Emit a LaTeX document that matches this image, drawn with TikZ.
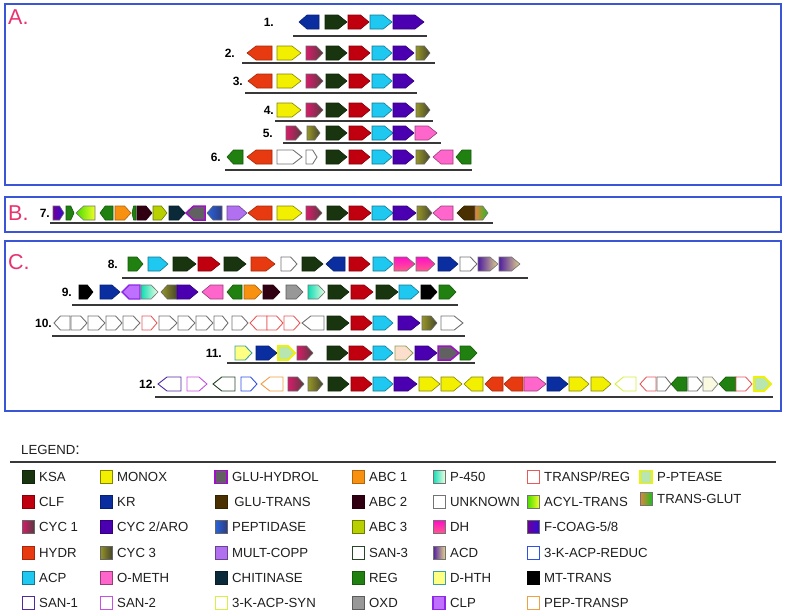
\documentclass[tikz,border=0pt]{standalone}
\usepackage{fontspec}
\setmainfont{Liberation Sans}
\definecolor{boxblue}{HTML}{3A55D6}
\definecolor{lblpink}{HTML}{E8336F}
\definecolor{cKSA}{HTML}{18350F}
\definecolor{cCLF}{HTML}{C0000F}
\definecolor{cHYDR}{HTML}{E83A10}
\definecolor{cACP}{HTML}{1EC8F0}
\definecolor{cMONOX}{HTML}{F2F000}
\definecolor{cKR}{HTML}{0A2EA0}
\definecolor{cCYC}{HTML}{4A00B0}
\definecolor{cOMETH}{HTML}{FF66CC}
\definecolor{cGLUT}{HTML}{4A3000}
\definecolor{cMULT}{HTML}{B070F0}
\definecolor{cCHIT}{HTML}{0A2A3A}
\definecolor{cABCa}{HTML}{F89010}
\definecolor{cABCb}{HTML}{300012}
\definecolor{cABCc}{HTML}{B8D000}
\definecolor{cREG}{HTML}{208010}
\definecolor{cOXD}{HTML}{989898}
\definecolor{gCYCa}{HTML}{D81B6A}
\definecolor{gCYCb}{HTML}{5A3A40}
\definecolor{gCYTa}{HTML}{969628}
\definecolor{gCYTb}{HTML}{46462D}
\definecolor{gPEPa}{HTML}{2864DC}
\definecolor{gPEPb}{HTML}{2D3C82}
\definecolor{gP45a}{HTML}{10DCB4}
\definecolor{gP45b}{HTML}{EBFFE1}
\definecolor{gDHa}{HTML}{FF10C8}
\definecolor{gDHb}{HTML}{FF5A8C}
\definecolor{gACDa}{HTML}{501EA0}
\definecolor{gACDb}{HTML}{E1D28C}
\definecolor{gACYa}{HTML}{46DC00}
\definecolor{gACYb}{HTML}{F0FF28}
\definecolor{gFCOa}{HTML}{6E0096}
\definecolor{gFCOb}{HTML}{320ADC}
\definecolor{gTGa}{HTML}{E6823C}
\definecolor{gTGb}{HTML}{1EBE1E}
\definecolor{cGLUHd}{HTML}{A010C8}
\definecolor{cCLPf}{HTML}{C070FF}
\definecolor{cCLPd}{HTML}{8C28E6}
\definecolor{cPPTf}{HTML}{B8E6B0}
\definecolor{cPPTd}{HTML}{F0F000}
\definecolor{cDHTf}{HTML}{FFFF82}
\definecolor{cDHTd}{HTML}{3CA0A0}
\definecolor{oTR}{HTML}{E85A5A}
\definecolor{oS1}{HTML}{5028A0}
\definecolor{oS2}{HTML}{C850E0}
\definecolor{oS3}{HTML}{284628}
\definecolor{oKR}{HTML}{3050E6}
\definecolor{oPT}{HTML}{F0A040}
\definecolor{oKS}{HTML}{D7F046}
\definecolor{cPEAf}{HTML}{FCDECC}
\definecolor{cPEAd}{HTML}{8CA05A}
\definecolor{cCREf}{HTML}{FAFAE1}
\tikzset{
  gene/.style={line width=0.6pt, line join=miter},
  solidg/.style={fill=#1, draw=#1!70!black},
  ksa/.style={solidg=cKSA},
  clf/.style={solidg=cCLF},
  hydr/.style={solidg=cHYDR},
  acp/.style={fill=cACP, draw=cACP!60!black},
  monox/.style={fill=cMONOX, draw=cMONOX!55!black},
  kr/.style={solidg=cKR},
  cyc2/.style={solidg=cCYC},
  ometh/.style={fill=cOMETH, draw=cOMETH!60!black},
  glut/.style={solidg=cGLUT},
  multc/.style={fill=cMULT, draw=cMULT!60!black},
  chit/.style={solidg=cCHIT},
  abca/.style={solidg=cABCa},
  abcb/.style={solidg=cABCb},
  abcc/.style={fill=cABCc, draw=cABCc!60!black},
  reg/.style={solidg=cREG},
  oxd/.style={fill=cOXD, draw=cOXD!60!black},
  mt/.style={fill=black, draw=black},
  cyc1/.style={left color=gCYCa, right color=gCYCb, draw=black!60},
  cyc3/.style={left color=gCYTa, right color=gCYTb, draw=black!60},
  pept/.style={left color=gPEPa, right color=gPEPb, draw=black!60},
  p450/.style={left color=gP45a, right color=gP45b, draw=black!55},
  dh/.style={top color=gDHa, bottom color=gDHb, draw=black!55},
  acd/.style={left color=gACDa, right color=gACDb, draw=black!55},
  acyl/.style={left color=gACYa, right color=gACYb, draw=black!55},
  fcoag/.style={left color=gFCOa, right color=gFCOb, draw=black!60},
  transg/.style={left color=gTGa, right color=gTGb, draw=black!55},
  gluh/.style={fill=black!62, draw=cGLUHd, line width=1.5pt},
  clp/.style={fill=cCLPf, draw=cCLPd, line width=1.4pt},
  pptease/.style={fill=cPPTf, draw=cPPTd, line width=1.8pt},
  dhth/.style={fill=cDHTf, draw=cDHTd, line width=0.9pt},
  outl/.style={fill=white, draw=#1, line width=0.9pt},
  unk/.style={outl=black!55},
  trreg/.style={outl=oTR},
  san1/.style={outl=oS1},
  san2/.style={outl=oS2},
  san3/.style={outl=oS3},
  kred/.style={outl=oKR},
  peptr/.style={outl=oPT},
  kasyn/.style={outl=oKS},
  peach/.style={fill=cPEAf, draw=cPEAd, line width=0.8pt},
  cream/.style={fill=cCREf, draw=black!45, line width=0.8pt},
  panel/.style={draw=boxblue, line width=1.8pt},
  panellbl/.style={text=lblpink, font=\fontsize{21.5}{23}\selectfont, anchor=west, inner sep=0pt},
  rowlbl/.style={font=\bfseries\fontsize{12}{14}\selectfont, anchor=east, inner sep=0pt},
  rowline/.style={draw=black!78, line width=1.4pt},
  legtxt/.style={font=\fontsize{13.2}{15}\selectfont, text=black!88, anchor=west, inner sep=0pt},
  legbox/.style={line width=0.8pt}
}
\newcommand\geneR[4]{%
  \pgfmathsetmacro\gtip{min(9,0.4*(#2-#1))}%
  \path[gene,#4] (#1,#3-7) -- ({#2-\gtip},#3-7) -- (#2,#3) -- ({#2-\gtip},#3+7) -- (#1,#3+7) -- cycle;}
\newcommand\geneL[4]{%
  \pgfmathsetmacro\gtip{min(9,0.4*(#2-#1))}%
  \path[gene,#4] (#2,#3-7) -- ({#1+\gtip},#3-7) -- (#1,#3) -- ({#1+\gtip},#3+7) -- (#2,#3+7) -- cycle;}
\newcommand\legitem[4]{%
  \path[legbox,#3] (#1,#2-6.5) rectangle (#1+12,#2+6.5);
  \node[legtxt] at (#1+17,#2) {#4};}
\begin{document}
\begin{tikzpicture}[x=1pt,y=-1pt]
\useasboundingbox (0,0) rectangle (787,614);
\fill[white] (0,0) rectangle (787,614);
% panels
\draw[panel] (5,4) rectangle (781,185);
\draw[panel] (5,197) rectangle (781,232);
\draw[panel] (5,241) rectangle (781,411);
\node[panellbl] (pA) at (8,17) {A.};
\node[panellbl] (pB) at (8,213) {B.};
\node[panellbl] (pC) at (8,262) {C.};
% Row 1
\node[rowlbl] (r1) at (274,22) {1.};
\geneL{299}{319}{22}{kr}
\geneR{325}{347}{22}{ksa}
\geneR{348}{369}{22}{clf}
\geneR{370}{392}{22}{acp}
\geneR{393}{424}{22}{cyc2}
\draw[rowline] (293,36) -- (427,36);
% Row 2
\node[rowlbl] (r2) at (235,53) {2.};
\geneL{247}{272}{53}{hydr}
\geneR{277}{301}{53}{monox}
\geneR{306}{323}{53}{cyc1}
\geneR{326}{347}{53}{ksa}
\geneR{349}{370}{53}{clf}
\geneR{372}{392}{53}{acp}
\geneR{393}{414}{53}{cyc2}
\geneR{416}{430}{53}{cyc3}
\draw[rowline] (242,63) -- (435,63);
% Row 3
\node[rowlbl] (r3) at (243,81) {3.};
\geneL{248}{272}{81}{hydr}
\geneR{277}{301}{81}{monox}
\geneR{306}{323}{81}{cyc1}
\geneR{326}{347}{81}{ksa}
\geneR{349}{370}{81}{clf}
\geneR{372}{392}{81}{acp}
\geneR{393}{414}{81}{cyc2}
\draw[rowline] (245,93) -- (417,93);
% Row 4
\node[rowlbl] (r4) at (274,110) {4.};
\geneR{277}{301}{110}{monox}
\geneR{306}{323}{110}{cyc1}
\geneR{326}{347}{110}{ksa}
\geneR{349}{370}{110}{clf}
\geneR{372}{392}{110}{acp}
\geneR{393}{414}{110}{cyc2}
\geneR{416}{430}{110}{cyc3}
\draw[rowline] (275,121) -- (433,121);
% Row 5
\node[rowlbl] (r5) at (273,133) {5.};
\geneR{286}{302}{133}{cyc1}
\geneR{307}{320}{133}{cyc3}
\geneR{326}{347}{133}{ksa}
\geneR{349}{371}{133}{clf}
\geneR{372}{393}{133}{acp}
\geneR{393}{414}{133}{cyc2}
\geneR{415}{437}{133}{ometh}
\draw[rowline] (283,143) -- (441,143);
% Row 6
\node[rowlbl] (r6) at (221,157) {6.};
\geneL{227}{243}{157}{reg}
\geneL{247}{272}{157}{hydr}
\geneR{277}{302}{157}{unk}
\geneR{306}{317}{157}{unk}
\geneR{326}{347}{157}{ksa}
\geneR{349}{370}{157}{clf}
\geneR{372}{392}{157}{acp}
\geneR{393}{414}{157}{cyc2}
\geneR{416}{430}{157}{cyc3}
\geneL{433}{453}{157}{ometh}
\geneL{456}{471}{157}{reg}
\draw[rowline] (225,170) -- (472,170);
% Row 7
\node[rowlbl] (r7) at (50,213) {7.};
\geneR{53}{64}{213}{fcoag}
\geneR{66}{74}{213}{reg}
\geneL{76}{95}{213}{acyl}
\geneL{100}{113}{213}{reg}
\geneR{115}{131}{213}{abca}
\geneL{132}{136}{213}{reg}
\geneR{137}{152}{213}{abcb}
\geneR{153}{167}{213}{abcc}
\geneR{169}{185}{213}{chit}
\geneL{186}{205}{213}{gluh}
\geneL{207}{222}{213}{pept}
\geneR{227}{247}{213}{multc}
\geneL{248}{272}{213}{hydr}
\geneR{277}{302}{213}{monox}
\geneR{306}{322}{213}{cyc1}
\geneR{327}{348}{213}{ksa}
\geneR{349}{371}{213}{clf}
\geneR{372}{393}{213}{acp}
\geneR{393}{416}{213}{cyc2}
\geneR{417}{432}{213}{cyc3}
\geneL{433}{453}{213}{ometh}
\geneL{457}{475}{213}{glut}
\geneR{475}{488}{213}{transg}
\draw[rowline] (50,223) -- (493,223);
% Row 8
\node[rowlbl] (r8) at (118,264) {8.};
\geneR{128}{143}{264}{reg}
\geneR{148}{168}{264}{acp}
\geneR{173}{196}{264}{ksa}
\geneR{198}{220}{264}{clf}
\geneR{224}{246}{264}{ksa}
\geneR{251}{275}{264}{hydr}
\geneR{281}{297}{264}{unk}
\geneR{302}{323}{264}{ksa}
\geneL{326}{345}{264}{kr}
\geneR{349}{370}{264}{clf}
\geneR{373}{393}{264}{acp}
\geneR{394}{415}{264}{dh}
\geneR{416}{435}{264}{dh}
\geneR{438}{458}{264}{kr}
\geneR{460}{477}{264}{unk}
\geneR{478}{498}{264}{acd}
\geneR{499}{520}{264}{acd}
\draw[rowline] (122,278) -- (528,278);
% Row 9
\node[rowlbl] (r9) at (72,292) {9.};
\geneR{79}{93}{292}{mt}
\geneR{100}{120}{292}{kr}
\geneL{122}{140}{292}{clp}
\geneR{141}{158}{292}{p450}
\geneL{161}{177}{292}{cyc3}
\geneR{177}{198}{292}{cyc2}
\geneL{202}{223}{292}{ometh}
\geneL{227}{242}{292}{reg}
\geneR{244}{262}{292}{abca}
\geneR{263}{280}{292}{abcb}
\geneR{286}{303}{292}{oxd}
\geneR{308}{325}{292}{p450}
\geneR{328}{349}{292}{ksa}
\geneR{351}{373}{292}{clf}
\geneR{376}{398}{292}{ksa}
\geneR{399}{419}{292}{acp}
\geneR{421}{437}{292}{mt}
\geneR{439}{456}{292}{reg}
\draw[rowline] (72,305) -- (458,305);
% Row 10
\node[rowlbl] (r10) at (52,323) {10.};
\geneL{54}{70}{323}{unk}
\geneR{71}{87}{323}{unk}
\geneR{88}{105}{323}{unk}
\geneR{106}{122}{323}{unk}
\geneR{123}{140}{323}{unk}
\geneR{142}{157}{323}{trreg}
\geneR{159}{177}{323}{unk}
\geneR{178}{195}{323}{unk}
\geneR{196}{213}{323}{unk}
\geneR{214}{228}{323}{unk}
\geneR{232}{248}{323}{unk}
\geneL{250}{267}{323}{trreg}
\geneR{267}{283}{323}{trreg}
\geneR{284}{300}{323}{trreg}
\geneL{302}{324}{323}{unk}
\geneR{327}{349}{323}{ksa}
\geneR{351}{372}{323}{clf}
\geneR{373}{393}{323}{acp}
\geneR{398}{420}{323}{cyc2}
\geneR{422}{437}{323}{cyc3}
\geneR{441}{463}{323}{unk}
\draw[rowline] (52,336) -- (465,336);
% Row 11
\node[rowlbl] (r11) at (222,353) {11.};
\geneR{235}{252}{353}{dhth}
\geneR{256}{277}{353}{kr}
\geneR{278}{295}{353}{pptease}
\geneR{297}{313}{353}{cyc1}
\geneR{327}{348}{353}{ksa}
\geneR{349}{372}{353}{clf}
\geneR{373}{393}{353}{acp}
\geneR{395}{413}{353}{peach}
\geneR{415}{437}{353}{cyc2}
\geneR{438}{459}{353}{gluh}
\geneR{460}{477}{353}{reg}
\draw[rowline] (227,363) -- (475,363);
% Row 12
\node[rowlbl] (r12) at (156,384) {12.};
\geneL{158}{181}{384}{san1}
\geneR{187}{207}{384}{san2}
\geneL{213}{235}{384}{san3}
\geneR{241}{257}{384}{kred}
\geneL{261}{283}{384}{peptr}
\geneR{288}{304}{384}{cyc1}
\geneR{308}{323}{384}{cyc3}
\geneR{328}{349}{384}{ksa}
\geneR{351}{372}{384}{clf}
\geneR{373}{393}{384}{acp}
\geneR{394}{417}{384}{cyc2}
\geneR{419}{440}{384}{monox}
\geneR{441}{462}{384}{monox}
\geneL{464}{483}{384}{monox}
\geneL{485}{503}{384}{hydr}
\geneL{504}{523}{384}{hydr}
\geneR{524}{546}{384}{ometh}
\geneR{547}{568}{384}{kr}
\geneR{569}{589}{384}{monox}
\geneR{591}{611}{384}{monox}
\geneL{615}{636}{384}{kasyn}
\geneL{640}{656}{384}{trreg}
\geneR{657}{671}{384}{unk}
\geneL{671}{687}{384}{reg}
\geneR{688}{703}{384}{unk}
\geneR{703}{718}{384}{cream}
\geneL{719}{736}{384}{reg}
\geneR{736}{752}{384}{trreg}
\geneR{754}{771}{384}{pptease}
\draw[rowline] (155,397) -- (773,397);
% Legend
\node[legtxt] (leg) at (21,450) {LEGEND\fontsize{16}{17}\selectfont:};
\draw[rowline, line width=1.2pt] (10,462) -- (776,462);
\legitem{22}{477}{ksa}{KSA}
\legitem{22}{502}{clf}{CLF}
\legitem{22}{527}{cyc1}{CYC 1}
\legitem{22}{553}{hydr}{HYDR}
\legitem{22}{578}{acp}{ACP}
\legitem{22}{603}{san1}{SAN-1}
\legitem{100}{477}{monox}{MONOX}
\legitem{100}{502}{kr}{KR}
\legitem{100}{527}{cyc2}{CYC 2/ARO}
\legitem{100}{553}{cyc3}{CYC 3}
\legitem{100}{578}{ometh}{O-METH}
\legitem{100}{603}{san2}{SAN-2}
\legitem{215}{477}{gluh}{GLU-HYDROL}
\legitem{215}{502}{glut}{\,GLU-TRANS}
\legitem{215}{527}{pept}{PEPTIDASE}
\legitem{215}{553}{multc}{MULT-COPP}
\legitem{215}{578}{chit}{CHITINASE}
\legitem{215}{603}{kasyn}{3-K-ACP-SYN}
\legitem{352}{477}{abca}{ABC 1}
\legitem{352}{502}{abcb}{ABC 2}
\legitem{352}{527}{abcc}{ABC 3}
\legitem{352}{553}{san3}{SAN-3}
\legitem{352}{578}{reg}{REG}
\legitem{352}{603}{oxd}{OXD}
\legitem{433}{477}{p450}{P-450}
\legitem{433}{502}{unk}{UNKNOWN}
\legitem{433}{527}{dh}{DH}
\legitem{433}{553}{acd}{ACD}
\legitem{433}{578}{dhth}{D-HTH}
\legitem{433}{603}{clp}{CLP}
\legitem{527}{477}{trreg}{TRANSP/REG}
\legitem{527}{502}{acyl}{ACYL-TRANS}
\legitem{527}{527}{fcoag}{F-COAG-5/8}
\legitem{527}{553}{kred}{3-K-ACP-REDUC}
\legitem{527}{578}{mt}{MT-TRANS}
\legitem{527}{603}{peptr}{PEP-TRANSP}
\legitem{640}{477}{pptease}{P-PTEASE}
\legitem{640}{499}{transg}{TRANS-GLUT}
\end{tikzpicture}
\end{document}
